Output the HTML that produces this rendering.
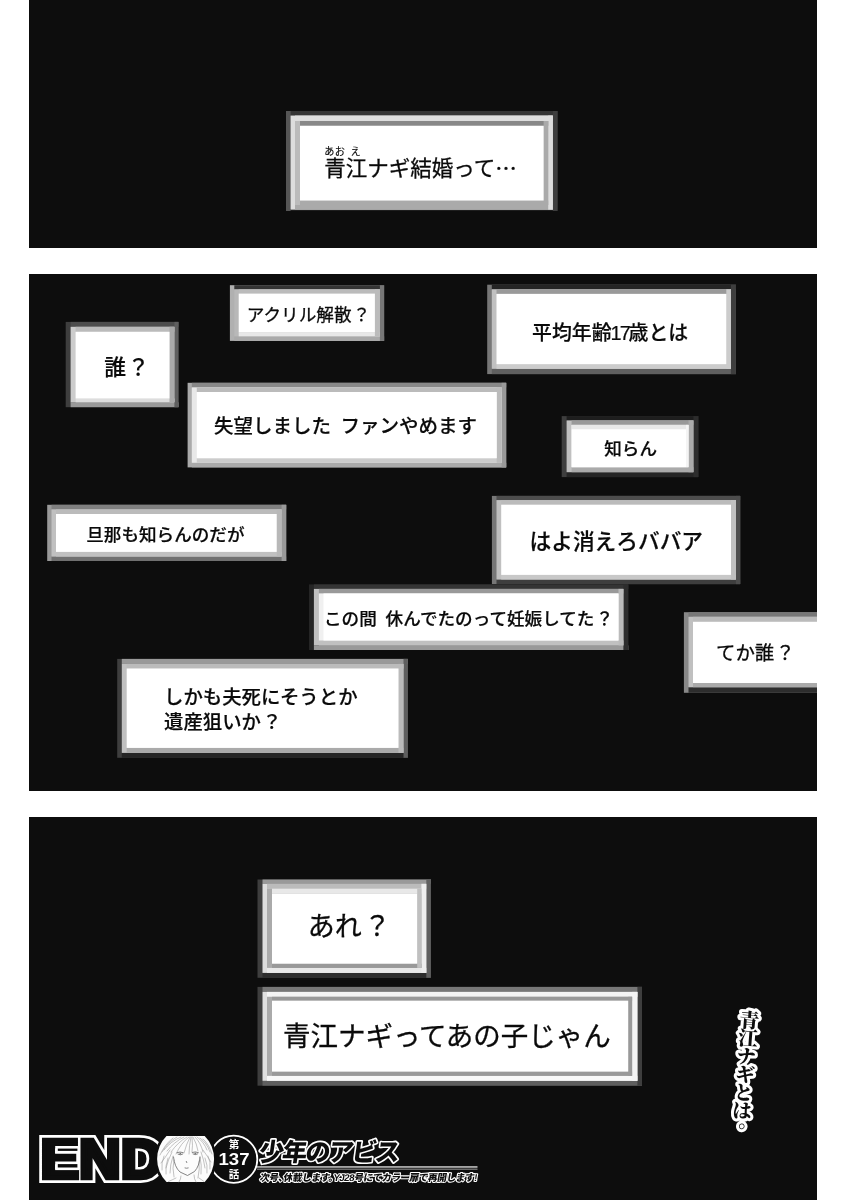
<!DOCTYPE html>
<html lang="ja">
<head>
<meta charset="utf-8">
<title>少年のアビス 第137話</title>
<style>
html,body{margin:0;padding:0;background:#fff;}
#page{position:absolute;left:0;top:0;width:850px;height:1200px;overflow:hidden;background:#fff;filter:grayscale(1);}
body{width:850px;height:1200px;position:relative;overflow:hidden;font-family:"Liberation Sans","Noto Sans CJK JP",sans-serif;color:#111;}
.panel{position:absolute;left:29px;width:788px;background:#0d0d0d;overflow:hidden;}
#p1{top:0;height:248px;}
#p2{top:274px;height:517px;}
#p3{top:817px;height:383px;}
.q{margin-left:0.07em;}
#txt{position:absolute;left:0;top:0;width:850px;height:1200px;}
.t{position:absolute;white-space:nowrap;line-height:1;font-weight:400;color:#0a0a0a;-webkit-text-stroke:0.3px #0a0a0a;}
</style>
</head>
<body>
<div id="page">
<div class="panel" id="p1"></div>
<div class="panel" id="p2"></div>
<div class="panel" id="p3"></div>
<svg width="850" height="1200" viewBox="0 0 850 1200" style="position:absolute;left:0;top:0">
<g id="b1">
<rect x="286" y="111" width="271.4" height="100" fill="#565656"/>
<rect x="290.6" y="111" width="266.8" height="4.6" fill="#343434"/>
<rect x="290.6" y="209.6" width="266.8" height="1.4" fill="#1e1e1e"/>
<rect x="552.8" y="111" width="4.6" height="100" fill="#3e3e3e"/>
<rect x="290.6" y="115.6" width="262.2" height="94" fill="#ddd"/>
<rect x="295" y="115.6" width="257.8" height="5.4" fill="#ddd"/>
<rect x="295" y="205" width="257.8" height="4.6" fill="#aaa"/>
<rect x="548.2" y="115.6" width="4.6" height="94" fill="#ddd"/>
<rect x="295" y="121" width="253.2" height="84" fill="#bbb"/>
<rect x="300" y="121" width="248.2" height="4.8" fill="#888"/>
<rect x="300" y="200.5" width="248.2" height="4.5" fill="#aaa"/>
<rect x="543.6" y="121" width="4.6" height="84" fill="#aaa"/>
<rect x="300" y="125.8" width="243.6" height="74.7" fill="#fff"/>
</g>
<g id="b2">
<rect x="229.9" y="285.2" width="154.2" height="55.7" fill="#b0b0b0"/>
<rect x="234.3" y="285.2" width="149.8" height="4.2" fill="#343434"/>
<rect x="234.3" y="336.3" width="149.8" height="4.6" fill="#aaa"/>
<rect x="379.9" y="285.2" width="4.2" height="55.7" fill="#777"/>
<rect x="234.3" y="289.4" width="145.6" height="46.9" fill="#b8b8b8"/>
<rect x="238.7" y="289.4" width="141.2" height="4.2" fill="#bbb"/>
<rect x="238.7" y="332.1" width="141.2" height="4.2" fill="#e8e8e8"/>
<rect x="374.9" y="289.4" width="5" height="46.9" fill="#bbb"/>
<rect x="238.7" y="293.6" width="136.2" height="38.5" fill="#fff"/>
</g>
<g id="b3">
<rect x="65.7" y="321.9" width="112.8" height="85.3" fill="#3e3e3e"/>
<rect x="70.6" y="321.9" width="107.9" height="4.9" fill="#4d4d4d"/>
<rect x="70.6" y="402.3" width="107.9" height="4.9" fill="#999"/>
<rect x="174.4" y="321.9" width="4.1" height="85.3" fill="#5f5f5f"/>
<rect x="70.6" y="326.8" width="103.8" height="75.5" fill="#ccc"/>
<rect x="75.6" y="326.8" width="98.8" height="5" fill="#bbb"/>
<rect x="75.6" y="398.5" width="98.8" height="3.8" fill="#ddd"/>
<rect x="169.5" y="326.8" width="4.9" height="75.5" fill="#aaa"/>
<rect x="75.6" y="331.8" width="93.9" height="66.7" fill="#fff"/>
</g>
<g id="b4">
<rect x="487.2" y="284.7" width="248.7" height="89.4" fill="#777"/>
<rect x="491.8" y="284.7" width="244.1" height="4.6" fill="#252525"/>
<rect x="491.8" y="368.8" width="244.1" height="5.3" fill="#5f5f5f"/>
<rect x="730.9" y="284.7" width="5" height="89.4" fill="#3e3e3e"/>
<rect x="491.8" y="289.3" width="239.1" height="79.5" fill="#c0c0c0"/>
<rect x="496.5" y="289.3" width="234.4" height="4.6" fill="#999"/>
<rect x="496.5" y="364.2" width="234.4" height="4.6" fill="#ccc"/>
<rect x="726.3" y="289.3" width="4.6" height="79.5" fill="#ccc"/>
<rect x="496.5" y="293.9" width="229.8" height="70.3" fill="#fff"/>
</g>
<g id="b5">
<rect x="187.6" y="382.8" width="318.6" height="84.6" fill="#aaa"/>
<rect x="191.8" y="382.8" width="314.4" height="4.6" fill="#888"/>
<rect x="191.8" y="462.8" width="314.4" height="4.6" fill="#aaa"/>
<rect x="501.6" y="382.8" width="4.6" height="84.6" fill="#999"/>
<rect x="191.8" y="387.4" width="309.8" height="75.4" fill="#e8e8e8"/>
<rect x="196.8" y="387.4" width="304.8" height="4.6" fill="#bbb"/>
<rect x="196.8" y="458.2" width="304.8" height="4.6" fill="#ccc"/>
<rect x="496.7" y="387.4" width="4.9" height="75.4" fill="#bbb"/>
<rect x="196.8" y="392" width="299.9" height="66.2" fill="#fff"/>
</g>
<g id="b6">
<rect x="561.7" y="416.1" width="136.6" height="61" fill="#3e3e3e"/>
<rect x="566.6" y="416.1" width="131.7" height="4.3" fill="#1e1e1e"/>
<rect x="566.6" y="472.2" width="131.7" height="4.9" fill="#252525"/>
<rect x="693.4" y="416.1" width="4.9" height="61" fill="#2d2d2d"/>
<rect x="566.6" y="420.4" width="126.8" height="51.8" fill="#c0c0c0"/>
<rect x="571.6" y="420.4" width="121.8" height="4.5" fill="#999"/>
<rect x="571.6" y="467.2" width="121.8" height="5" fill="#aaa"/>
<rect x="688.5" y="420.4" width="4.9" height="51.8" fill="#aaa"/>
<rect x="571.6" y="424.9" width="116.9" height="42.3" fill="#fff"/>
<rect x="571.6" y="424.9" width="116.9" height="4.6" fill="#e8e8e8"/>
<rect x="686" y="424.9" width="2.5" height="42.3" fill="#f4f4f4"/>
<rect x="571.6" y="429.5" width="114.4" height="37.7" fill="#fff"/>
</g>
<g id="b7">
<rect x="47.2" y="504.8" width="239" height="56.2" fill="#999"/>
<rect x="51.5" y="504.8" width="234.7" height="4.6" fill="#808080"/>
<rect x="51.5" y="556.5" width="234.7" height="4.5" fill="#707070"/>
<rect x="281.6" y="504.8" width="4.6" height="56.2" fill="#999"/>
<rect x="51.5" y="509.4" width="230.1" height="47.1" fill="#c0c0c0"/>
<rect x="56" y="509.4" width="225.6" height="4.6" fill="#bbb"/>
<rect x="56" y="551.9" width="225.6" height="4.6" fill="#c0c0c0"/>
<rect x="276.7" y="509.4" width="4.9" height="47.1" fill="#b8b8b8"/>
<rect x="56" y="514" width="220.7" height="37.9" fill="#fff"/>
</g>
<g id="b8">
<rect x="491.9" y="495.9" width="248.3" height="88.2" fill="#777"/>
<rect x="496.5" y="495.9" width="243.7" height="4.2" fill="#4d4d4d"/>
<rect x="496.5" y="579.5" width="243.7" height="4.6" fill="#3e3e3e"/>
<rect x="735.9" y="495.9" width="4.3" height="88.2" fill="#4d4d4d"/>
<rect x="496.5" y="500.1" width="239.4" height="79.4" fill="#c0c0c0"/>
<rect x="501.2" y="500.1" width="234.7" height="4.6" fill="#bbb"/>
<rect x="501.2" y="574.9" width="234.7" height="4.6" fill="#c8c8c8"/>
<rect x="731" y="500.1" width="4.9" height="79.4" fill="#c0c0c0"/>
<rect x="501.2" y="504.7" width="229.8" height="70.2" fill="#fff"/>
</g>
<g id="b9">
<rect x="309" y="584.4" width="319.3" height="65.6" fill="#252525"/>
<rect x="313.9" y="584.4" width="314.4" height="4.5" fill="#343434"/>
<rect x="313.9" y="645.4" width="314.4" height="4.6" fill="#999"/>
<rect x="623.4" y="584.4" width="4.9" height="65.6" fill="#2d2d2d"/>
<rect x="313.9" y="588.9" width="309.5" height="56.5" fill="#c0c0c0"/>
<rect x="318.9" y="588.9" width="304.5" height="4.6" fill="#999"/>
<rect x="318.9" y="640.5" width="304.5" height="4.9" fill="#c0c0c0"/>
<rect x="618.5" y="588.9" width="4.9" height="56.5" fill="#bbb"/>
<rect x="318.9" y="593.5" width="299.6" height="47" fill="#f0f0f0"/>
<rect x="323.5" y="593.5" width="295" height="47" fill="#fff"/>
</g>
<g id="b10">
<rect x="683.9" y="612.2" width="133.1" height="80.6" fill="#888"/>
<rect x="688.5" y="612.2" width="128.5" height="4.6" fill="#777"/>
<rect x="688.5" y="687.2" width="128.5" height="5.6" fill="#2d2d2d"/>
<rect x="688.5" y="616.8" width="128.5" height="70.4" fill="#c0c0c0"/>
<rect x="693" y="616.8" width="124" height="5" fill="#bbb"/>
<rect x="693" y="683" width="124" height="4.2" fill="#aaa"/>
<rect x="693" y="621.8" width="124" height="61.2" fill="#fff"/>
</g>
<g id="b11">
<rect x="117.2" y="658.9" width="290.7" height="98.9" fill="#3e3e3e"/>
<rect x="121.8" y="658.9" width="286.1" height="5" fill="#999"/>
<rect x="121.8" y="752.9" width="286.1" height="4.9" fill="#252525"/>
<rect x="403.5" y="658.9" width="4.4" height="98.9" fill="#5f5f5f"/>
<rect x="121.8" y="663.9" width="281.7" height="89" fill="#c0c0c0"/>
<rect x="126.7" y="663.9" width="276.8" height="4.6" fill="#bbb"/>
<rect x="126.7" y="747.9" width="276.8" height="5" fill="#aaa"/>
<rect x="398.5" y="663.9" width="5" height="89" fill="#bbb"/>
<rect x="126.7" y="668.5" width="271.8" height="79.4" fill="#fff"/>
</g>
<g id="b12">
<rect x="257.5" y="879.5" width="173.4" height="98.3" fill="#3e3e3e"/>
<rect x="262.5" y="879.5" width="168.4" height="4.3" fill="#999"/>
<rect x="262.5" y="972.9" width="168.4" height="4.9" fill="#2d2d2d"/>
<rect x="426.3" y="879.5" width="4.6" height="98.3" fill="#5f5f5f"/>
<rect x="262.5" y="883.8" width="163.8" height="89.1" fill="#ddd"/>
<rect x="267" y="883.8" width="159.3" height="4.9" fill="#bbb"/>
<rect x="267" y="967.9" width="159.3" height="5" fill="#e8e8e8"/>
<rect x="421.4" y="883.8" width="4.9" height="89.1" fill="#eee"/>
<rect x="267" y="888.7" width="154.4" height="79.2" fill="#aaa"/>
<rect x="272" y="888.7" width="149.4" height="4.9" fill="#e8e8e8"/>
<rect x="272" y="963.7" width="149.4" height="4.2" fill="#999"/>
<rect x="417.2" y="888.7" width="4.2" height="79.2" fill="#c0c0c0"/>
<rect x="272" y="893.6" width="145.2" height="70.1" fill="#fff"/>
</g>
<g id="b13">
<rect x="257.5" y="986.9" width="384.5" height="98.8" fill="#3e3e3e"/>
<rect x="262.5" y="986.9" width="379.5" height="5" fill="#777"/>
<rect x="262.5" y="1080.8" width="379.5" height="4.9" fill="#5f5f5f"/>
<rect x="637.4" y="986.9" width="4.6" height="98.8" fill="#3e3e3e"/>
<rect x="262.5" y="991.9" width="374.9" height="88.9" fill="#e0e0e0"/>
<rect x="267" y="991.9" width="370.4" height="4.9" fill="#f4f4f4"/>
<rect x="267" y="1075.8" width="370.4" height="5" fill="#f8f8f8"/>
<rect x="632.1" y="991.9" width="5.3" height="88.9" fill="#f4f4f4"/>
<rect x="267" y="996.8" width="365.1" height="79" fill="#aaa"/>
<rect x="272" y="996.8" width="360.1" height="3.9" fill="#999"/>
<rect x="272" y="1071.6" width="360.1" height="4.2" fill="#999"/>
<rect x="628.2" y="996.8" width="3.9" height="79" fill="#999"/>
<rect x="272" y="1000.7" width="356.2" height="70.9" fill="#fff"/>
</g>
</svg>
<div id="txt">
<div class="t" id="t1" style="left:324.35px;top:155.5px;font-size:21.5px;">青江ナギ結婚って<span style="font-family:'Noto Sans CJK JP',sans-serif">…</span></div>
<div class="t" id="t2" style="left:246.8px;top:306.6px;font-size:17.6px;">アクリル解散<span class="q">？</span></div>
<div class="t" id="t3" style="left:104.25px;top:357.4px;font-size:21.8px;font-weight:500;-webkit-text-stroke:0.2px #0a0a0a;">誰<span class="q">？</span></div>
<div class="t" id="t4" style="left:532.05px;top:323.6px;font-size:19.9px;font-weight:500;-webkit-text-stroke:0.2px #0a0a0a;">平均年齢<span style="letter-spacing:-1.7px;margin-left:-1.2px;margin-right:-0.6px">17</span>歳とは</div>
<div class="t" id="t5" style="left:214.05px;top:417.1px;font-size:19.5px;word-spacing:4px;font-weight:500;-webkit-text-stroke:0.2px #0a0a0a;">失望しました ファンやめます</div>
<div class="t" id="t6" style="left:604.2px;top:441px;font-size:17.6px;font-weight:500;-webkit-text-stroke:0.2px #0a0a0a;">知らん</div>
<div class="t" id="t7" style="left:86.2px;top:526.7px;font-size:17.6px;font-weight:500;-webkit-text-stroke:0.2px #0a0a0a;">旦那も知らんのだが</div>
<div class="t" id="t8" style="left:529.55px;top:531.3px;font-size:21.7px;font-weight:500;-webkit-text-stroke:0.2px #0a0a0a;">はよ消えろババア</div>
<div class="t" id="t9" style="left:323.95px;top:610.8px;font-size:17.6px;word-spacing:4px;font-weight:500;-webkit-text-stroke:0.2px #0a0a0a;">この間 休んでたのって妊娠してた<span class="q">？</span></div>
<div class="t" id="t10" style="left:716.1px;top:643.9px;font-size:19.4px;">てか誰<span class="q">？</span></div>
<div class="t" id="t11" style="left:164px;top:684.7px;font-size:19.4px;line-height:25.6px;font-weight:500;-webkit-text-stroke:0.2px #0a0a0a;">しかも夫死にそうとか<br>遺産狙いか<span class="q">？</span></div>
<div class="t" id="t12" style="left:307.85px;top:914px;font-size:27px;">あれ<span class="q">？</span></div>
<div class="t" id="t13" style="left:283px;top:1022.5px;font-size:27.5px;">青江ナギってあの子じゃん</div>
<div class="t" id="r1" style="left:324.2px;top:147.05px;font-size:10.2px;font-weight:400;letter-spacing:0.4px;-webkit-text-stroke:0.15px #0a0a0a;">あお<span style="margin-left:0.5em">え</span></div>
</div>
<svg id="ov" width="850" height="1200" viewBox="0 0 850 1200" style="position:absolute;left:0;top:0;overflow:hidden">
<!-- END logo -->
<g font-family="'Liberation Sans',sans-serif" font-weight="700" font-size="55.5" stroke-linejoin="miter" stroke-miterlimit="2" transform="translate(40.6,1177.7) scale(1.04,1)">
 <text x="0" y="0" fill="#fff" stroke="#fff" stroke-width="9.8" aria-hidden="true">END</text>
 <text id="endtxt" x="0" y="0" fill="#0d0d0d" stroke="#0d0d0d" stroke-width="4.6">END</text>
</g>
<g id="e-slits"><rect x="55.2" y="1146" width="24" height="7.5" fill="#fff"/><rect x="57.8" y="1148.6" width="19.6" height="2.3" fill="#0d0d0d"/><rect x="55.2" y="1161.5" width="24" height="8.6" fill="#fff"/><rect x="57.8" y="1164.1" width="19.6" height="3.4" fill="#0d0d0d"/></g>
<!-- chapter ring -->
<circle cx="233.7" cy="1159.2" r="23.6" fill="#0d0d0d" stroke="#fff" stroke-width="1.8"/>
<g font-family="'Liberation Sans','Noto Sans CJK JP',sans-serif" fill="#fff" text-anchor="middle" font-weight="700">
 <text x="234" y="1148.3" font-size="10.5">第</text>
 <text x="234" y="1165.3" font-size="16.6" textLength="31" lengthAdjust="spacingAndGlyphs">137</text>
 <text x="234" y="1178.3" font-size="10.5">話</text>
</g>
<!-- face -->
<g id="face">
 <path d="M166.5 1136 L204.7 1136 A28.5 31 0 0 1 204.7 1182 L166.5 1182 A28.5 31 0 0 1 166.5 1136 Z" fill="#0d0d0d" stroke="#0d0d0d" stroke-width="5" stroke-linejoin="round"/>
 <path d="M166.5 1136 L204.7 1136 A28.5 31 0 0 1 204.7 1182 L166.5 1182 A28.5 31 0 0 1 166.5 1136 Z" fill="#fcfcfc"/>
 <g fill="none" stroke="#9a9a9a" stroke-width="0.6" stroke-linecap="round">
  <path d="M189 1137 Q181 1143 176 1154 M187 1137 Q178 1142 171 1152 M184 1137 Q174 1142 167 1151 M181 1137 Q171 1141 164 1150 M177 1137 Q168 1142 162 1152 M173 1138 Q165 1144 160 1155"/>
  <path d="M190 1137 Q186 1145 184 1153 M191 1137 Q189 1146 189 1154 M192 1137 Q193 1146 192 1152 M193 1137 Q197 1144 198 1151 M195 1137 Q201 1143 203 1152 M197 1137 Q204 1142 207 1150 M200 1138 Q207 1143 210 1152 M203 1139 Q209 1144 212 1154"/>
  <path d="M172 1152 Q168 1160 166 1168 M170 1150 Q165 1158 161 1163 M173 1156 Q170 1165 170 1173 M174 1160 Q172 1168 174 1177 M168 1158 Q165 1166 166 1174 M164 1156 Q161 1163 162 1170"/>
  <path d="M201 1152 Q204 1160 205 1168 M203 1150 Q208 1157 211 1162 M200 1157 Q202 1165 201 1174 M199 1161 Q200 1169 198 1178 M205 1158 Q208 1165 207 1173 M208 1156 Q211 1162 210 1169"/>
  <path d="M181 1176 Q181 1179 179 1182 M194 1175 Q194 1179 196 1182 M176 1178 Q172 1180 168.5 1181.5 M199 1178 Q202 1180 204 1181.5"/>
 </g>
 <g fill="none" stroke="#666" stroke-width="0.8" stroke-linecap="round" stroke-linejoin="round">
  <path d="M173.5 1157 Q174.5 1167 180 1172 L187.5 1175.5 L194.5 1171.5 Q199.5 1166 200 1157"/>
  <path d="M177 1152.6 Q180 1151.4 183.2 1152.6 M192.3 1152.4 Q195.4 1151.2 198.4 1152.6"/>
  <path d="M178 1154.2 Q180.3 1155.6 182.6 1154.2 M193 1154 Q195.3 1155.4 197.6 1154"/>
  <path d="M186.3 1161.4 L186.8 1162.6 M185 1168 Q186.5 1168.6 188.2 1168"/>
 </g>
 <g fill="#777"><circle cx="180.3" cy="1153.7" r="0.9"/><circle cx="195.3" cy="1153.5" r="0.9"/></g>
</g>
<!-- title -->
<g font-family="'Liberation Sans','Noto Sans CJK JP',sans-serif" font-weight="900" stroke-linejoin="round" fill="#0d0d0d" stroke="#fff" paint-order="stroke">
 <text transform="translate(258,1161.4) skewX(-8)" font-size="24.9" letter-spacing="-1.7" stroke-width="3.3">少年のアビス</text>
 <rect x="257" y="1166.3" width="220.5" height="1.3" fill="#e6e6e6" stroke="none"/>
 <rect x="257" y="1168.7" width="220.5" height="0.9" fill="#a8a8a8" stroke="none"/>
 <text id="smalltxt" transform="translate(259.6,1180.7) skewX(-9)" font-size="9.7" letter-spacing="-0.46" stroke-width="2.2">次号、<tspan dx="-4.2">休</tspan>載します。<tspan dx="-4.6">Y</tspan>J28号にてカラー扉で再開します!</text>
</g>
<!-- vertical caption -->
<text transform="rotate(4.5 744 1069)" x="744" y="1010" font-family="'Liberation Serif','Noto Serif CJK JP','Noto Serif CJK SC',serif" font-weight="900" font-size="19.7" writing-mode="vertical-rl" letter-spacing="-1.6" stroke-linejoin="round" fill="#0d0d0d" stroke="#fff" stroke-width="6" paint-order="stroke">青江ナギとは<tspan dx="-5.5" dy="3.5">。</tspan></text>
</svg>

</div>
</body>
</html>
